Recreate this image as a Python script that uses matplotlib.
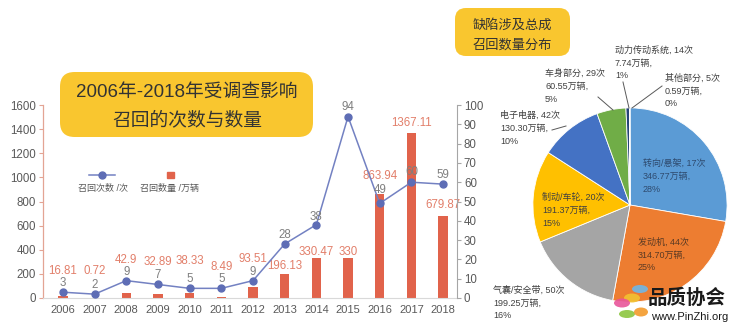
import matplotlib
matplotlib.use('Agg')
import matplotlib.pyplot as plt
from matplotlib.patches import FancyBboxPatch, Ellipse
from matplotlib.lines import Line2D
import numpy as np

plt.rcParams['font.family'] = ['Liberation Sans', 'Noto Sans CJK SC', 'DejaVu Sans']

# ---------------- data ----------------
years = ['2006', '2007', '2008', '2009', '2010', '2011', '2012',
         '2013', '2014', '2015', '2016', '2017', '2018']
recall_qty = [16.81, 0.72, 42.9, 32.89, 38.33, 8.49, 93.51,
              196.13, 330.47, 330, 863.94, 1367.11, 679.87]
recall_cnt = [3, 2, 9, 7, 5, 5, 9, 28, 38, 94, 49, 60, 59]
left_ticks = [0, 200, 400, 600, 800, 1000, 1200, 1400, 1600]
right_ticks = [0, 10, 20, 30, 40, 50, 60, 70, 80, 90, 100]

pie_parts = ['转向/悬架', '发动机', '气囊/安全带', '制动/车轮',
             '电子电器', '车身部分', '动力传动系统', '其他部分']
pie_counts = [17, 44, 50, 20, 42, 29, 14, 5]
pie_qty = [346.77, 314.70, 199.25, 191.37, 130.30, 60.55, 7.74, 0.59]
pie_pct = [28, 25, 16, 15, 10, 5, 1, 0]

# ---------------- styles / layout ----------------
W, H = 733, 327
fig = plt.figure(figsize=(W / 100, H / 100), dpi=100)

def fx(x):
    return x / W

def fy(y):
    return 1 - y / H

bar_color = '#E1634B'
bar_lbl_color = '#E27F6A'
line_color = '#7381C2'
marker_color = '#5E6DB5'
tick_color = '#595959'
yellow = '#F9C62F'

# label offsets (pixels) to reproduce manual label placement
bar_lbl_dy = [25, 27, 33, 32, 32, 30, 28, 8, 6, 6, 18, 10, 11]
line_lbl_dy = [9, 9, 9, 9, 9, 9, 9, 9, 8, 10, 13, 10, 9]

# ---------------- left combo chart ----------------
ax = fig.add_axes([fx(43), fy(298), fx(457) - fx(43), fy(105) - fy(298)])
x = np.arange(len(years))
ax.bar(x, recall_qty, width=0.3, color=bar_color, zorder=2)
ax.set_xlim(-0.63, len(years) - 1 + 0.44)
ax.set_ylim(0, 1600)
ax.set_yticks(left_ticks)
ax.set_xticks(x)
ax.set_xticklabels(years)
ax.tick_params(axis='x', length=0, pad=5, labelsize=8, colors=tick_color)
ax.tick_params(axis='y', length=3, width=0.8, pad=2, labelsize=8.3,
               colors=tick_color)
ax.tick_params(axis='y', color='#E3A494')
for s in ['top', 'right']:
    ax.spines[s].set_visible(False)
ax.spines['left'].set_color('#E3A494')
ax.spines['left'].set_linewidth(0.9)
ax.spines['bottom'].set_color('#D9D9D9')
ax.spines['bottom'].set_linewidth(0.8)

for xi, v, dy in zip(x, recall_qty, bar_lbl_dy):
    ax.annotate(f'{v:g}', (xi, v), xytext=(0, dy), textcoords='offset pixels',
                ha='center', va='center', fontsize=8.3, color=bar_lbl_color,
                zorder=5)

ax2 = ax.twinx()
ax2.set_ylim(0, 100)
ax2.set_yticks(right_ticks)
ax2.plot(x, recall_cnt, color=line_color, lw=1.1, marker='o', markersize=5,
         markerfacecolor=marker_color, markeredgecolor=marker_color, zorder=3)
for s in ['top', 'left', 'bottom']:
    ax2.spines[s].set_visible(False)
ax2.spines['right'].set_color('#A6A6A6')
ax2.spines['right'].set_linewidth(0.8)
ax2.tick_params(axis='y', length=3, width=0.8, pad=2, labelsize=8.3,
                colors=tick_color)
ax2.tick_params(axis='y', color='#A6A6A6')
for xi, v, dy in zip(x, recall_cnt, line_lbl_dy):
    ax2.annotate(f'{v}', (xi, v), xytext=(0, dy), textcoords='offset pixels',
                 ha='center', va='center', fontsize=8.3, color='#7F7F7F',
                 zorder=4)

# legend (drawn manually: marker above text)
fig.add_artist(Line2D([fx(89), fx(115)], [fy(175), fy(175)], color=line_color,
                      lw=1.1, marker=None))
fig.add_artist(Line2D([fx(102)], [fy(175)], color=marker_color, marker='o',
                      markersize=5, lw=0))
fig.text(fx(103), fy(188), '召回次数 /次', ha='center', va='center',
         fontsize=6.5, color=tick_color)
fig.add_artist(plt.Rectangle((fx(167), fy(178)), 7 / W, 6 / H,
                             transform=fig.transFigure, color=bar_color))
fig.text(fx(170), fy(188), '召回数量 /万辆', ha='center', va='center',
         fontsize=6.5, color=tick_color)

# title box left
fig.add_artist(FancyBboxPatch((fx(60), fy(137)), (313 - 60) / W, (137 - 72) / H,
                              boxstyle='round,pad=0,rounding_size=0.02',
                              transform=fig.transFigure, facecolor=yellow,
                              edgecolor='none', mutation_aspect=W / H))
fig.text(fx(187), fy(92), '2006年-2018年受调查影响', ha='center', va='center',
         fontsize=13.5, color='#333333')
fig.text(fx(187), fy(120), '召回的次数与数量', ha='center', va='center',
         fontsize=13.5, color='#333333')

# title box right
fig.add_artist(FancyBboxPatch((fx(455), fy(56)), (570 - 455) / W, (56 - 8) / H,
                              boxstyle='round,pad=0,rounding_size=0.015',
                              transform=fig.transFigure, facecolor=yellow,
                              edgecolor='none', mutation_aspect=W / H))
fig.text(fx(512), fy(25), '缺陷涉及总成', ha='center', va='center',
         fontsize=9.5, color='#333333')
fig.text(fx(512), fy(45), '召回数量分布', ha='center', va='center',
         fontsize=9.5, color='#333333')

# ---------------- pie ----------------
pie_colors = ['#5B9BD5', '#ED7D31', '#A5A5A5', '#FFC000',
              '#4472C4', '#70AD47', '#264478', '#9E480E']
pax = fig.add_axes([fx(530), fy(305), 200 / W, 200 / H])
pax.pie(pie_qty, colors=pie_colors, startangle=90, counterclock=False,
        radius=1.0, wedgeprops=dict(edgecolor='white', linewidth=0.6))
pax.set_xlim(-1.03, 1.03)
pax.set_ylim(-1.03, 1.03)
pax.set_aspect('equal')
pax.axis('off')

label_pos = {
    '转向/悬架': (643, 163),
    '发动机': (638, 242),
    '气囊/安全带': (493, 290),
    '制动/车轮': (542, 197),
    '电子电器': (500, 115),
    '车身部分': (545, 73),
    '动力传动系统': (615, 50),
    '其他部分': (665, 78),
}
label_color = {
    '转向/悬架': '#2E4A6E',
    '发动机': '#5A3A24',
    '气囊/安全带': '#404040',
    '制动/车轮': '#404040',
    '电子电器': '#404040',
    '车身部分': '#404040',
    '动力传动系统': '#404040',
    '其他部分': '#404040',
}
for name, c, q, p in zip(pie_parts, pie_counts, pie_qty, pie_pct):
    lx, ly = label_pos[name]
    lines = [f'{name}, {c}次', f'{q:.2f}万辆,', f'{p}%']
    for i, t in enumerate(lines):
        fig.text(fx(lx), fy(ly + 13 * i), t, ha='left', va='center',
                 fontsize=6.5, color=label_color[name])

# leader lines
for (x0, y0, x1, y1) in [(623, 82, 629, 108), (598, 97, 613, 110),
                         (662, 86, 632, 108), (552, 130, 566, 126)]:
    fig.add_artist(Line2D([fx(x0), fx(x1)], [fy(y0), fy(y1)], color='#595959',
                          lw=0.7))

# ---------------- watermark ----------------
for (cx, cy, w, h, col) in [(632, 298, 16, 9, '#F2C230'),
                            (640, 289, 16, 8, '#6FB7E8'),
                            (622, 303, 16, 9, '#E8559A'),
                            (627, 314, 16, 8, '#8CC63F'),
                            (641, 312, 14, 9, '#F39A2B')]:
    fig.add_artist(Ellipse((fx(cx), fy(cy)), w / W, h / H, angle=0,
                           transform=fig.transFigure, facecolor=col,
                           edgecolor='none', alpha=0.9))
fig.text(fx(687), fy(298), '品质协会', ha='center', va='center', fontsize=14,
         fontweight='bold', color='#1A1A1A', family=['Noto Sans CJK SC'])
fig.text(fx(690), fy(317), 'www.PinZhi.org', ha='center', va='center',
         fontsize=8, color='#1A1A1A')

fig.savefig('out.png', dpi=100)
